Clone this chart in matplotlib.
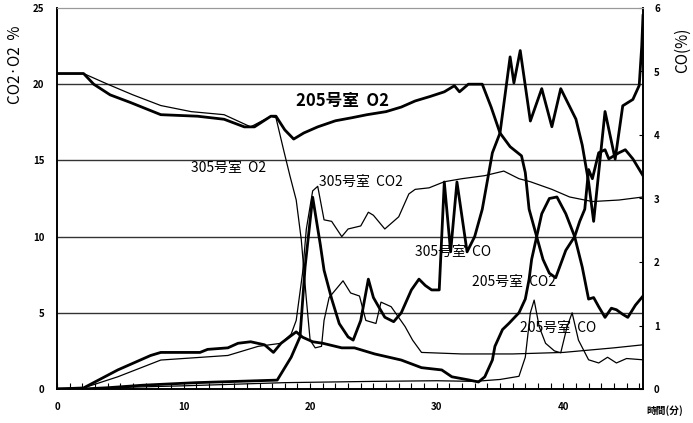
import matplotlib
matplotlib.use("Agg")
import matplotlib.pyplot as plt
from matplotlib.ticker import MultipleLocator

plt.rcParams['font.family'] = ['Noto Sans CJK JP', 'DejaVu Sans']

# 205号室 O2 (thick, left axis)
t_o2_205 = [0, 2.1, 2.9, 4.2, 5.8, 8.2, 11.1, 13.2, 14.8, 15.6, 16.9, 17.3, 18.0, 18.7, 19.5,
            20.6, 22.0, 23.3, 24.5, 26.0, 27.2, 28.3, 29.5, 30.6, 31.4, 31.8, 32.5, 33.6,
            34.3, 35.0, 35.8, 36.7, 37.0, 37.3, 37.9, 38.4, 38.9, 39.4, 40.2, 40.9, 41.3,
            41.7, 42.0, 42.3, 42.8, 43.3, 43.6, 44.4, 44.9, 45.5, 46.3]
o2_205 = [20.7, 20.7, 20.0, 19.3, 18.8, 18.0, 17.9, 17.7, 17.2, 17.2, 17.9, 17.9, 17.0, 16.4, 16.8,
          17.2, 17.6, 17.8, 18.0, 18.2, 18.5, 18.9, 19.2, 19.5, 19.9, 19.5, 20.0, 20.0,
          18.5, 16.8, 15.9, 15.3, 14.2, 11.8, 10.0, 8.5, 7.6, 7.3, 9.1, 10.0, 11.0,
          11.8, 14.4, 13.8, 15.5, 15.7, 15.1, 15.5, 15.7, 15.1, 14.0]

# 305号室 O2 (thin, left axis)
t_o2_305 = [0, 2.1, 4.0, 6.0, 8.2, 10.6, 13.2, 15.3, 16.9, 17.3, 17.9, 18.4, 18.9, 19.3, 19.7,
            20.0, 20.4, 20.9, 21.1, 21.5, 22.6, 23.2, 23.9, 24.4, 25.2, 25.6, 26.4, 27.5,
            28.1, 28.8, 32.0, 36.0, 40.0, 44.0, 46.3]
o2_305 = [20.7, 20.7, 20.0, 19.3, 18.6, 18.2, 18.0, 17.2, 17.9, 17.8, 15.7, 14.0, 12.4, 9.8, 5.9,
          3.2, 2.7, 2.8, 4.5, 6.0, 7.1, 6.3, 6.1, 4.5, 4.3, 5.7, 5.4, 4.1,
          3.2, 2.4, 2.3, 2.3, 2.4, 2.7, 2.9]

# 205号室 CO2 (thick, left axis)
t_co2_205 = [0, 2.1, 4.8, 7.4, 8.2, 11.3, 11.9, 13.5, 14.3, 15.3, 16.4, 17.1, 17.7, 18.9, 19.4,
             20.2, 21.0, 22.5, 23.5, 25.1, 27.2, 28.8, 30.4, 31.2, 32.5, 33.3, 33.8, 34.4,
             34.6, 35.2, 35.7, 36.5, 37.0, 37.3, 37.5, 37.9, 38.3, 38.9, 39.5, 40.2, 40.9,
             41.5, 42.0, 42.4, 42.8, 43.3, 43.8, 44.2, 44.7, 45.1, 45.7, 46.3]
co2_205 = [0, 0.07, 1.25, 2.2, 2.4, 2.4, 2.6, 2.7, 3.0, 3.1, 2.9, 2.4, 3.0, 3.75, 3.4,
           3.1, 3.0, 2.7, 2.7, 2.3, 1.9, 1.4, 1.25, 0.8, 0.6, 0.46, 0.8, 1.9,
           2.8, 3.9, 4.3, 5.0, 5.9, 7.2, 8.5, 10.0, 11.5, 12.5, 12.6, 11.5, 10.0,
           8.0, 5.9, 6.0, 5.4, 4.7, 5.3, 5.2, 4.9, 4.7, 5.5, 6.1]

# 305号室 CO2 (thin, left axis)
t_co2_305 = [0, 2.1, 4.8, 8.2, 13.5, 15.9, 17.7, 18.5, 18.9, 19.4, 19.7, 20.2, 20.6, 21.1,
             21.7, 22.5, 23.0, 24.0, 24.6, 25.0, 25.9, 27.0, 27.8, 28.3, 29.4, 30.6, 32.0,
             33.8, 35.3, 36.5, 37.4, 39.1, 40.5, 42.3, 44.4, 46.3]
co2_305 = [0, 0.07, 0.8, 1.9, 2.2, 2.8, 3.0, 3.6, 4.5, 7.6, 10.5, 13.0, 13.3, 11.1,
           11.0, 10.0, 10.5, 10.7, 11.6, 11.4, 10.5, 11.3, 12.8, 13.1, 13.2, 13.6, 13.8,
           14.0, 14.3, 13.8, 13.6, 13.1, 12.6, 12.3, 12.4, 12.6]

# 305号室 CO (thick, right axis, %)
t_co_305 = [0, 2.0, 4.0, 6.8, 11.0, 17.4, 18.5, 19.2, 19.6, 20.2, 20.8, 21.1, 21.7, 22.3,
            23.0, 23.4, 24.0, 24.6, 25.0, 25.4, 25.9, 26.6, 27.2, 28.0, 28.6, 29.1, 29.6,
            30.2, 30.6, 31.1, 31.6, 32.4, 33.0, 33.6, 34.4, 35.0, 35.8, 36.1, 36.6, 37.4,
            38.3, 39.1, 39.8, 41.0, 41.5, 42.0, 42.4, 43.3, 44.1, 44.7, 45.5, 46.0, 46.2, 46.3]
co_305 = [0, 0, 0.02, 0.06, 0.1, 0.14, 0.5, 0.82, 1.92, 3.02, 2.28, 1.87, 1.42, 1.03,
          0.82, 0.77, 1.08, 1.73, 1.44, 1.30, 1.13, 1.06, 1.2, 1.56, 1.73, 1.63, 1.56,
          1.56, 3.26, 2.16, 3.26, 2.16, 2.4, 2.83, 3.72, 4.03, 5.23, 4.82, 5.33, 4.22,
          4.73, 4.13, 4.73, 4.25, 3.84, 3.26, 2.64, 4.37, 3.62, 4.46, 4.56, 4.78, 5.4, 5.88]

# 205号室 CO (thin, right axis, %)
t_co_205 = [0, 3.0, 6.0, 10.0, 18.0, 25.0, 30.0, 33.0, 35.0, 36.5, 37.0, 37.4, 37.7, 38.1,
            38.6, 39.3, 39.8, 40.3, 40.7, 41.2, 42.0, 42.8, 43.5, 44.2, 45.0, 46.3]
co_205 = [0, 0, 0.03, 0.05, 0.1, 0.12, 0.13, 0.12, 0.15, 0.2, 0.5, 1.2, 1.4, 0.98,
          0.72, 0.6, 0.57, 0.98, 1.2, 0.77, 0.46, 0.41, 0.5, 0.41, 0.48, 0.46]

labels = ["205号室  O2", "305号室  O2", "305号室  CO2", "305号室  CO", "205号室  CO2", "205号室  CO"]
label_pos = [(18.9, 18.9), (10.6, 14.5), (20.7, 13.6), (28.3, 9.0), (32.8, 7.0), (36.6, 4.0)]

fig = plt.figure(figsize=(6.93, 4.23), dpi=100)
ax = fig.add_axes([57 / 693, 34 / 423, 586 / 693, 381 / 423])
ax2 = ax.twinx()

thick = 2.0
thin = 0.9
ax.plot(t_o2_205, o2_205, color='black', lw=thick)
ax.plot(t_o2_305, o2_305, color='black', lw=thin)
ax.plot(t_co2_205, co2_205, color='black', lw=thick)
ax.plot(t_co2_305, co2_305, color='black', lw=thin)
ax2.plot(t_co_305, co_305, color='black', lw=thick)
ax2.plot(t_co_205, co_205, color='black', lw=thin)

for y in [5, 10, 15, 20]:
    ax.axhline(y, color='#333333', lw=1.0, zorder=0)

ax.set_xlim(0, 46.3)
ax.set_ylim(0, 25)
ax2.set_ylim(0, 6)

ax.xaxis.set_major_locator(MultipleLocator(10))
ax.xaxis.set_minor_locator(MultipleLocator(1))
ax.yaxis.set_major_locator(MultipleLocator(5))
ax2.yaxis.set_major_locator(MultipleLocator(1))
ax.tick_params(axis='x', which='both', direction='in', length=4, width=0.8, labelsize=7, pad=9)
ax.tick_params(axis='y', direction='in', length=0, labelsize=7, pad=9)
ax2.tick_params(axis='y', direction='in', length=3, labelsize=7, pad=8)
for lab in ax.get_xticklabels() + ax.get_yticklabels() + ax2.get_yticklabels():
    lab.set_fontweight('bold')

for s in ['left', 'right', 'bottom']:
    ax.spines[s].set_linewidth(1.2)
    ax2.spines[s].set_linewidth(1.2)
ax.spines['top'].set_color('#999999')
ax2.spines['top'].set_color('#999999')

for i, (txt, (x, y)) in enumerate(zip(labels, label_pos)):
    size = 12 if i == 0 else 10
    weight = 'bold' if i == 0 else 'normal'
    ax.text(x, y, txt, fontsize=size, fontweight=weight, ha='left', va='center', color='black')

fig.text(15 / 693, 1 - 65 / 423, "CO2·O2  %", rotation=90, ha='center', va='center', fontsize=11)
fig.text(682 / 693, 1 - 50 / 423, "CO(%)", rotation=90, ha='center', va='center', fontsize=11)
fig.text(665 / 693, 1 - 411 / 423, "時間(分)", ha='center', va='center', fontsize=7, fontweight='bold')

fig.savefig("out.png", dpi=100)
